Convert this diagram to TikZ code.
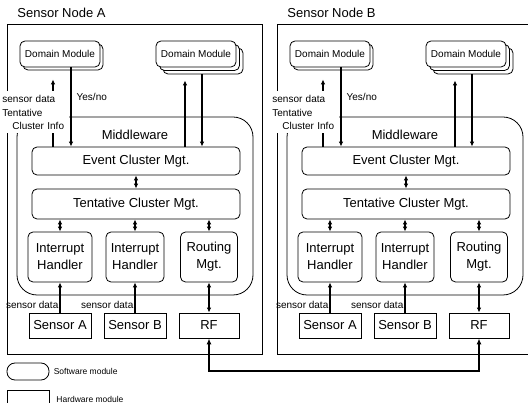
\documentclass[tikz,border=0pt]{standalone}
\usepackage{fontspec}
\setmainfont{Liberation Sans}
\usetikzlibrary{arrows.meta,shadows}
\newcommand{\fbig}{\fontsize{13}{17}\selectfont}
\newcommand{\fsmall}{\fontsize{10}{13.5}\selectfont}
\newcommand{\flegend}{\fontsize{8.5}{10}\selectfont}
\begin{document}
\begin{tikzpicture}[x=1pt,y=-1pt,line width=0.8pt,
    soft/.style={draw,fill=white,rounded corners=5pt,inner sep=0pt,align=center,font=\fbig},
    hard/.style={draw,fill=white,inner sep=0pt,font=\fbig},
    arr/.style={line width=1.3pt,-{Latex[length=5pt,width=4.5pt]}},
    dbl/.style={line width=1.3pt,{Latex[length=5pt,width=4.5pt]}-{Latex[length=5pt,width=4.5pt]}},
    link/.style={line width=2pt,{Latex[length=6pt,width=5pt]}-{Latex[length=6pt,width=5pt]}}]
  \useasboundingbox (0,0) rectangle (528,403);
  \clip (0,0) rectangle (528,403);
  % two sensor nodes, same layout
  \foreach \n/\dx in {A/0,B/270}{
  \begin{scope}[xshift=\dx pt]
    \node[anchor=west,inner sep=0pt,font=\fbig] (title\n) at (17,13) {Sensor Node \n};
    \draw (7,24) rectangle (262,354);
    \node[soft,font=\fsmall,minimum width=80,minimum height=26,
      copy shadow={shadow xshift=3pt,shadow yshift=-3pt}] (dm1\n) at (60,54) {Domain Module};
    \node[soft,font=\fsmall,minimum width=80,minimum height=26,
      double copy shadow={shadow xshift=3.5pt,shadow yshift=-3.5pt}] (dm2\n) at (196,54) {Domain Module};
    \node[draw,rounded corners=20pt,minimum width=236,minimum height=178,inner sep=0pt] (mw\n) at (135,206) {};
    \node[font=\fbig] (mwl\n) at (135,135) {Middleware};
    \node[soft,minimum width=208,minimum height=28] (ev\n) at (136,161) {Event Cluster Mgt.};
    \node[soft,minimum width=208,minimum height=30] (tc\n) at (136,204) {Tentative Cluster Mgt.};
    \node[soft,minimum width=64,minimum height=50] (ih1\n) at (60,257) {Interrupt\\Handler};
    \node[soft,minimum width=58,minimum height=50] (ih2\n) at (135,257) {Interrupt\\Handler};
    \node[soft,minimum width=57,minimum height=50] (rt\n) at (209,257) {Routing\\Mgt.};
    \node[hard,minimum width=62,minimum height=25] (sa\n) at (60,325.5) {Sensor A};
    \node[hard,minimum width=62,minimum height=25] (sb\n) at (135,325.5) {Sensor B};
    \node[hard,minimum width=60,minimum height=25] (rf\n) at (209,325.5) {RF};
    % arrows to the domain modules
    \draw[arr] ([xshift=-7pt]dm1\n.south |- ev\n.north) -- ([xshift=-7pt,yshift=-12pt]dm1\n.south);
    \node[fill=white,anchor=west,font=\fsmall,align=left,text width=65pt,inner xsep=2pt,
      inner ysep=0pt,minimum height=42] (inf\n) at (0,112.5) {sensor data\\Tentative\\\hspace*{10pt}Cluster Info};
    \draw[arr] ([xshift=11pt]dm1\n.south) -- ([xshift=11pt]dm1\n.south |- ev\n.north)
      node[pos=0.37,anchor=west,inner xsep=5pt,font=\fsmall] (yn\n) {Yes/no};
    \draw[arr] ([xshift=-11pt]dm2\n.south |- ev\n.north) -- ([xshift=-11pt,yshift=-13pt]dm2\n.south);
    \draw[arr] ([xshift=6pt,yshift=-7pt]dm2\n.south) -- ([xshift=6pt]dm2\n.south |- ev\n.north);
    % inside the middleware
    \draw[dbl] (ev\n) -- (tc\n);
    \foreach \m in {ih1,ih2,rt}{\draw[dbl] (tc\n.south -| \m\n.north) -- (\m\n.north);}
    % hardware
    \draw[arr] (sa\n) -- (ih1\n) node[pos=0.25,anchor=east,inner sep=1pt,font=\fsmall] {sensor data};
    \draw[arr] (sb\n) -- (ih2\n) node[pos=0.25,anchor=east,inner sep=1pt,font=\fsmall] {sensor data};
    \draw[dbl] (rf\n) -- (rt\n);
  \end{scope}}
  % radio link
  \draw[link] (rfA.south) -- ([yshift=-33pt]rfA.south) -| (rfB.south);
  % legend
  \node[draw,rounded corners=8pt,minimum width=42,minimum height=17,inner sep=0pt] (sw) at (28,371.5) {};
  \node[anchor=west,inner sep=0pt,font=\flegend] (swt) at ([xshift=4pt]sw.east) {Software module};
  \node[draw,minimum width=42,minimum height=20,inner sep=0pt] (hw) at (28,400) {};
  \node[anchor=west,inner sep=0pt,font=\flegend] (hwt) at (56,399) {Hardware module};
\end{tikzpicture}
\end{document}
